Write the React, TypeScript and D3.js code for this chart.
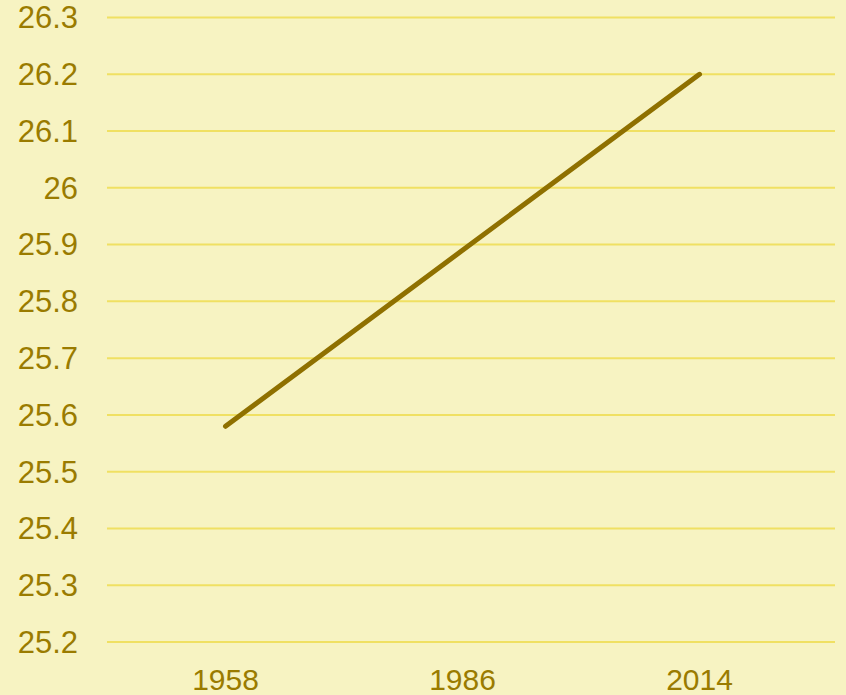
import React, { useRef, useEffect } from 'react'
import * as d3 from 'd3'

// chart data
const years = ['1958', '1986', '2014']
const values = [25.58, 25.89, 26.2]
const yTicks = [25.2, 25.3, 25.4, 25.5, 25.6, 25.7, 25.8, 25.9, 26, 26.1, 26.2, 26.3]

const W = 846
const H = 695

const App = () => {
    const ref = useRef<SVGSVGElement | null>(null)

    useEffect(() => {
        const svg = d3.select(ref.current)
        svg.selectAll('*').remove()

        svg.append('rect').attr('width', W).attr('height', H).attr('fill', '#f7f3c2')

        const x = d3.scaleBand<string>().domain(years).range([107, 818])
        const y = d3.scaleLinear().domain([25.2, 26.3]).range([642, 17.5])

        // grid lines
        svg.append('g')
            .selectAll('line')
            .data(yTicks)
            .enter()
            .append('line')
            .attr('x1', 107)
            .attr('x2', 835)
            .attr('y1', d => y(d))
            .attr('y2', d => y(d))
            .attr('stroke', '#f0e062')
            .attr('stroke-width', 2)

        // y labels
        svg.append('g')
            .selectAll('text')
            .data(yTicks)
            .enter()
            .append('text')
            .attr('x', 78)
            .attr('y', d => y(d))
            .attr('dy', '0.35em')
            .attr('text-anchor', 'end')
            .attr('font-family', 'Liberation Sans, Arial, sans-serif')
            .attr('font-size', 31)
            .attr('fill', '#9a7b00')
            .text(d => d3.format('')(d))

        // x labels
        svg.append('g')
            .selectAll('text')
            .data(years)
            .enter()
            .append('text')
            .attr('x', d => (x(d) ?? 0) + x.bandwidth() / 2)
            .attr('y', 690)
            .attr('text-anchor', 'middle')
            .attr('font-family', 'Liberation Sans, Arial, sans-serif')
            .attr('font-size', 30)
            .attr('fill', '#9a7b00')
            .text(d => d)

        const line = d3.line<number>()
            .x((d, i) => (x(years[i]) ?? 0) + x.bandwidth() / 2)
            .y(d => y(d))

        svg.append('path')
            .datum(values)
            .attr('d', line)
            .attr('fill', 'none')
            .attr('stroke', '#8f7000')
            .attr('stroke-width', 5)
            .attr('stroke-linecap', 'round')
            .attr('stroke-linejoin', 'round')
    }, [])

    return <svg ref={ref} width={W} height={H} style={{ position: 'fixed', top: 0, left: 0 }}></svg>
}

export default App
